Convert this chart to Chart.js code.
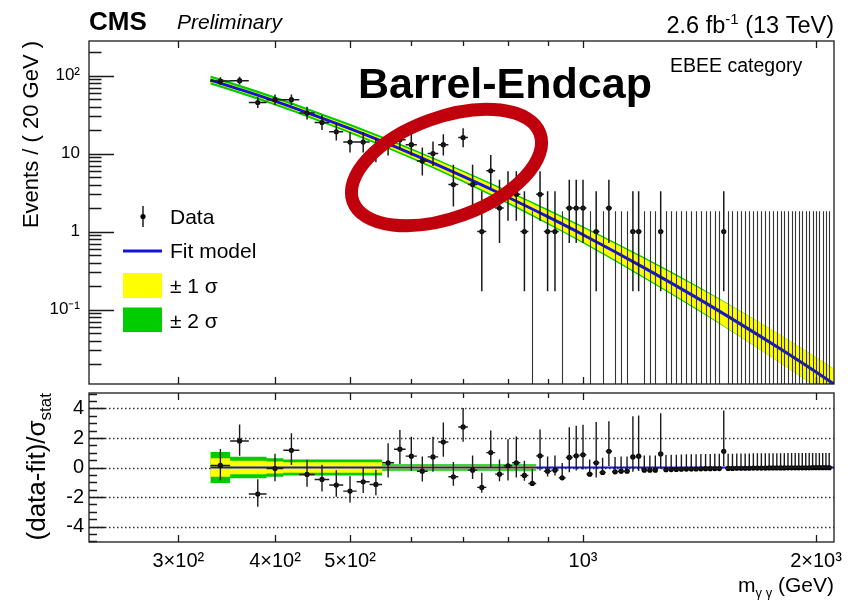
<!DOCTYPE html>
<html>
<head>
<meta charset="utf-8">
<title>EBEE category</title>
<script src="https://cdn.jsdelivr.net/npm/chart.js@4.4.1/dist/chart.umd.min.js"></script>
<style>
  html, body { margin: 0; background: #fff; }
  #wrap { position: relative; width: 857px; height: 602px; }
  #wrap canvas { position: absolute; left: 0; }
  #main { top: 0; }
  #ratio { top: 388px; }
</style>
</head>
<body>
<div id="wrap">
  <canvas id="main" width="857" height="388"></canvas>
  <canvas id="ratio" width="857" height="214"></canvas>
</div>
<script>
// diphoton mass histogram, 20 GeV bins from 330 GeV
const binLow = 330;
const binWidth = 20;

const counts = [
  85, 86, 45, 49, 49, 33, 25, 19, 14, 14,
  11, 13, 15, 13, 8, 10, 13, 4, 16, 4,
  1, 6, 2, 3, 3, 1, 0, 3, 1, 1,
  0, 2, 2, 2, 0, 1, 0, 2, 0, 0,
  0, 1, 1, 0, 0, 0, 1, 0, 0, 0,
  0, 0, 0, 0, 0, 0, 0, 0, 0, 1,
  0, 0, 0, 0, 0, 0, 0, 0, 0, 0,
  0, 0, 0, 0, 0, 0, 0, 0, 0, 0,
  0, 0, 0, 0, 0, 0, 0, 0
];

// (data-fit)/sigma_stat
const pulls = [
  0.14, 1.8, -1.8, -0.07, 1.17, -0.47, -0.81, -1.19, -1.6, -0.97,
  -1.15, 0.32, 1.24, 0.77, -0.25, 0.72, 1.73, -0.63, 2.75, -0.18,
  -1.35, 1.01, -0.45, 0.12, 0.32, -0.54, -1.08, 0.79, -0.25, -0.18,
  -0.7, 0.68, 0.79, 0.86, -0.45, 0.32, -0.34, 1.1, -0.29, -0.25,
  -0.25, 0.72, 0.77, -0.18, -0.18, -0.18, 0.92, -0.15, -0.14, -0.13,
  -0.12, -0.11, -0.1, -0.1, -0.09, -0.08, -0.08, -0.07, -0.07, 1.1,
  -0.06, -0.06, -0.05, -0.05, -0.05, -0.05, -0.04, -0.04, -0.04, -0.04,
  -0.03, -0.03, -0.03, -0.03, -0.03, -0.02, -0.02, -0.02, -0.02, -0.02,
  -0.02, -0.02, -0.01, -0.01, -0.01, -0.01, -0.01, -0.01
];

// fit uncertainty in the pull panel (sigma_stat units)
const pullBand1 = [
  0.62, 0.45, 0.45, 0.4, 0.36, 0.36, 0.36, 0.36, 0.36, 0.36,
  0.36, 0.12, 0.12, 0.12, 0.12, 0.12, 0.12, 0.12, 0.12, 0.12,
  0.12, 0.12, 0.12, 0.12, 0.12, 0.12, 0.12, 0.02, 0.02, 0.02,
  0.02, 0.02, 0.02, 0.02, 0.02, 0.02, 0.02, 0.02, 0.02, 0.02,
  0.02, 0.02, 0.02, 0.02, 0.02, 0.02, 0.02, 0.02, 0.02, 0.02,
  0.02, 0.02, 0.02, 0.02, 0.02, 0.02, 0.02, 0.02, 0.02, 0.02,
  0.02, 0.02, 0.02, 0.02, 0.02, 0.02, 0.02, 0.02, 0.02, 0.02,
  0.02, 0.02, 0.02, 0.02, 0.02, 0.02, 0.02, 0.02, 0.02, 0.02,
  0.02, 0.02, 0.02, 0.02, 0.02, 0.02, 0.02, 0.02
];
const pullBand2 = [
  1.05, 0.73, 0.73, 0.62, 0.54, 0.54, 0.54, 0.54, 0.54, 0.54,
  0.54, 0.22, 0.22, 0.22, 0.22, 0.22, 0.22, 0.22, 0.22, 0.22,
  0.22, 0.22, 0.22, 0.22, 0.22, 0.22, 0.22, 0.04, 0.04, 0.04,
  0.04, 0.04, 0.04, 0.04, 0.04, 0.04, 0.04, 0.04, 0.04, 0.04,
  0.04, 0.04, 0.04, 0.04, 0.04, 0.04, 0.04, 0.04, 0.04, 0.04,
  0.04, 0.04, 0.04, 0.04, 0.04, 0.04, 0.04, 0.04, 0.04, 0.04,
  0.04, 0.04, 0.04, 0.04, 0.04, 0.04, 0.04, 0.04, 0.04, 0.04,
  0.04, 0.04, 0.04, 0.04, 0.04, 0.04, 0.04, 0.04, 0.04, 0.04,
  0.04, 0.04, 0.04, 0.04, 0.04, 0.04, 0.04, 0.04
];

const fitMass  = [330, 360, 400, 450, 500, 600, 700, 800, 900, 1000, 1200, 1400, 1600, 1800, 2000, 2110];
const fitValue = [87.5, 66.5, 47.0, 30.8, 20.8, 10.0, 5.1, 2.75, 1.55, 0.91, 0.342, 0.143, 0.0645, 0.0311, 0.0158, 0.0111];
const band1Dec = [0.028, 0.028, 0.03, 0.032, 0.035, 0.044, 0.054, 0.064, 0.077, 0.09, 0.116, 0.14, 0.165, 0.18, 0.19, 0.195];
const band2Dec = [0.058, 0.058, 0.058, 0.06, 0.062, 0.068, 0.076, 0.086, 0.098, 0.11, 0.136, 0.155, 0.168, 0.18, 0.19, 0.195];

const yTopTicks = [0.1, 1, 10, 100];
const yTopLabels = ['10⁻¹', '1', '10', '10²'];
const xTicks = [300, 400, 500, 1000, 2000];
const xLabels = ['3×10²', '4×10²', '5×10²', '10³', '2×10³'];
const xMinorTicks = [600, 700, 800, 900];
const yPullTicks = [-4, -2, 0, 2, 4];

const xMin = 230, xMax = 2110;
const FONT = '"Liberation Sans", Arial, Helvetica, sans-serif';
const BLUE = '#1414dc';
const YELLOW = '#ffff00';
const GREEN = '#00cc00';
const INK = '#1a1a1a';

Chart.defaults.font.family = FONT;
Chart.defaults.color = '#000';

const centers = counts.map((_, i) => binLow + (i + 0.5) * binWidth);

// approximate 68% Poisson interval
function poisLo(n) {
  if (n === 0) return 0;
  return n * Math.pow(1 - 1 / (9 * n) - 1 / (3 * Math.sqrt(n)), 3);
}
function poisHi(n) {
  const m = n + 1;
  return m * Math.pow(1 - 1 / (9 * m) + 1 / (3 * Math.sqrt(m)), 3);
}

function clipArea(ctx, a) {
  ctx.beginPath();
  ctx.rect(a.left, a.top, a.right - a.left, a.bottom - a.top);
  ctx.clip();
}

// keep the plot frame where it is: no label overhang padding
function noPad(s) {
  s.paddingTop = 0;
  s.paddingBottom = 0;
  s.paddingLeft = 0;
  s.paddingRight = 0;
}

function drawFrame(chart) {
  const { ctx, chartArea: a, scales: { x } } = chart;
  ctx.save();
  ctx.strokeStyle = INK;
  ctx.lineWidth = 1.3;
  ctx.strokeRect(a.left, a.top, a.right - a.left, a.bottom - a.top);
  ctx.beginPath();
  xTicks.concat(xMinorTicks).forEach(v => {
    const px = Math.round(x.getPixelForValue(v)) + 0.5;
    const len = xTicks.includes(v) ? 7 : 5;
    ctx.moveTo(px, a.bottom); ctx.lineTo(px, a.bottom - len);
    ctx.moveTo(px, a.top); ctx.lineTo(px, a.top + len);
  });
  ctx.stroke();
  ctx.restore();
}

function text(ctx, s, x, y, font, align) {
  ctx.font = font;
  ctx.textAlign = align || 'left';
  ctx.textBaseline = 'alphabetic';
  ctx.fillStyle = '#000';
  ctx.fillText(s, x, y);
}

// draws [string, font, baseline shift] pieces one after another, ending at x
function richRight(ctx, parts, x, y) {
  let w = 0;
  parts.forEach(p => { ctx.font = p[1]; w += ctx.measureText(p[0]).width; });
  let cx = x - w;
  ctx.textAlign = 'left';
  ctx.textBaseline = 'alphabetic';
  ctx.fillStyle = '#000';
  parts.forEach(p => {
    ctx.font = p[1];
    ctx.fillText(p[0], cx, y + p[2]);
    cx += ctx.measureText(p[0]).width;
  });
}

const mainDecor = {
  id: 'mainDecor',
  afterDatasetsDraw(chart) {
    const { ctx, chartArea: a, scales: { x, y } } = chart;
    ctx.save();
    clipArea(ctx, a);
    // empty bins: upper limit only
    ctx.strokeStyle = '#333';
    ctx.lineWidth = 1.1;
    ctx.beginPath();
    counts.forEach((n, i) => {
      if (n !== 0) return;
      const px = Math.round(x.getPixelForValue(centers[i])) + 0.5;
      ctx.moveTo(px, a.bottom);
      ctx.lineTo(px, y.getPixelForValue(poisHi(0)));
    });
    ctx.stroke();
    ctx.strokeStyle = INK;
    ctx.lineWidth = 1.5;
    ctx.beginPath();
    counts.forEach((n, i) => {
      if (n === 0) return;
      const px = x.getPixelForValue(centers[i]);
      const py = y.getPixelForValue(n);
      ctx.moveTo(px, y.getPixelForValue(poisLo(n)));
      ctx.lineTo(px, y.getPixelForValue(poisHi(n)));
      ctx.moveTo(x.getPixelForValue(binLow + i * binWidth), py);
      ctx.lineTo(x.getPixelForValue(binLow + (i + 1) * binWidth), py);
    });
    ctx.stroke();
    ctx.restore();
  },
  afterDraw(chart) {
    const { ctx, chartArea: a, scales: { y } } = chart;
    drawFrame(chart);

    // log y ticks, inside the frame
    ctx.save();
    ctx.strokeStyle = INK;
    ctx.lineWidth = 1.3;
    ctx.beginPath();
    for (let d = -2; d <= 2; d++) {
      for (let k = 1; k <= 9; k++) {
        const v = k * Math.pow(10, d);
        if (v < y.min || v > y.max) continue;
        const py = Math.round(y.getPixelForValue(v)) + 0.5;
        ctx.moveTo(a.left, py);
        ctx.lineTo(a.left + (k === 1 ? 25 : 12.5), py);
      }
    }
    ctx.stroke();
    ctx.restore();

    // axis title
    ctx.save();
    ctx.translate(38, a.top);
    ctx.rotate(-Math.PI / 2);
    text(ctx, 'Events / ( 20 GeV )', 0, 0, '22px ' + FONT, 'right');
    ctx.restore();

    // header
    text(ctx, 'CMS', 89, 30, 'bold 26px ' + FONT);
    text(ctx, 'Preliminary', 177, 29, 'italic 21px ' + FONT);
    richRight(ctx, [
      ['2.6 fb', '23.5px ' + FONT, 0],
      ['-1', '15px ' + FONT, -9],
      [' (13 TeV)', '23.5px ' + FONT, 0]
    ], 834, 33);
    text(ctx, 'EBEE category', 670, 72, '19.5px ' + FONT);

    // legend
    ctx.save();
    ctx.fillStyle = '#000';
    ctx.strokeStyle = INK;
    ctx.lineWidth = 1.5;
    ctx.beginPath();
    ctx.moveTo(143, 206); ctx.lineTo(143, 227);
    ctx.stroke();
    ctx.beginPath();
    ctx.arc(143, 216.5, 2.6, 0, Math.PI * 2);
    ctx.fill();
    ctx.strokeStyle = BLUE;
    ctx.lineWidth = 3;
    ctx.beginPath();
    ctx.moveTo(123, 251); ctx.lineTo(162, 251);
    ctx.stroke();
    ctx.fillStyle = YELLOW;
    ctx.fillRect(123, 273, 39, 25);
    ctx.fillStyle = GREEN;
    ctx.fillRect(123, 307.5, 39, 24.5);
    ctx.restore();
    text(ctx, 'Data', 170, 224, '21px ' + FONT);
    text(ctx, 'Fit model', 170, 258, '21px ' + FONT);
    text(ctx, '± 1 σ', 170, 293, '21px ' + FONT);
    text(ctx, '± 2 σ', 170, 328, '21px ' + FONT);

    // annotation
    ctx.save();
    ctx.strokeStyle = '#c0000c';
    ctx.lineWidth = 13;
    ctx.beginPath();
    ctx.ellipse(446.5, 167.5, 99.5, 50.3, -20 * Math.PI / 180, 0, Math.PI * 2);
    ctx.stroke();
    ctx.restore();
    text(ctx, 'Barrel-Endcap', 358, 98, 'bold 43px ' + FONT);
  }
};

const ratioDecor = {
  id: 'ratioDecor',
  beforeDatasetsDraw(chart) {
    const { ctx, chartArea: a, scales: { y } } = chart;
    ctx.save();
    ctx.strokeStyle = '#333';
    ctx.lineWidth = 1.3;
    ctx.setLineDash([1.5, 2.5]);
    ctx.beginPath();
    yPullTicks.forEach(v => {
      const py = Math.round(y.getPixelForValue(v)) + 0.5;
      ctx.moveTo(a.left, py); ctx.lineTo(a.right, py);
    });
    ctx.stroke();
    ctx.restore();
  },
  afterDatasetsDraw(chart) {
    const { ctx, chartArea: a, scales: { x, y } } = chart;
    ctx.save();
    clipArea(ctx, a);
    ctx.strokeStyle = INK;
    ctx.lineWidth = 1.4;
    ctx.beginPath();
    counts.forEach((n, i) => {
      const r = pulls[i];
      let up = 1, down = 1;
      if (n === 0) {
        down = 0;
      } else if (r >= 0) {
        up = (poisHi(n) - n) / (n - poisLo(n));
      } else {
        down = (n - poisLo(n)) / (poisHi(n) - n);
      }
      const px = x.getPixelForValue(centers[i]);
      const py = y.getPixelForValue(r);
      ctx.moveTo(px, y.getPixelForValue(r - down));
      ctx.lineTo(px, y.getPixelForValue(r + up));
      ctx.moveTo(x.getPixelForValue(binLow + i * binWidth), py);
      ctx.lineTo(x.getPixelForValue(binLow + (i + 1) * binWidth), py);
    });
    ctx.stroke();
    ctx.restore();
  },
  afterDraw(chart) {
    const { ctx, chartArea: a, scales: { y } } = chart;
    drawFrame(chart);
    ctx.save();
    ctx.strokeStyle = INK;
    ctx.lineWidth = 1.3;
    ctx.beginPath();
    for (let v = -5; v <= 5; v += 0.5) {
      if (v < y.min || v > y.max) continue;
      const py = Math.round(y.getPixelForValue(v)) + 0.5;
      const major = yPullTicks.includes(v);
      ctx.moveTo(a.left, py);
      ctx.lineTo(a.left + (major ? 16 : 8), py);
    }
    ctx.stroke();
    ctx.restore();

    // y title with subscript
    ctx.save();
    ctx.translate(45, a.top);
    ctx.rotate(-Math.PI / 2);
    richRight(ctx, [
      ['(data-fit)/σ', '26px ' + FONT, 0],
      ['stat', '17px ' + FONT, 6]
    ], 0, 0);
    ctx.restore();

    // x title
    richRight(ctx, [
      ['m', '21px ' + FONT, 0],
      ['γ γ', '13px ' + FONT, 5],
      [' (GeV)', '21px ' + FONT, 0]
    ], 834, 204);
  }
};

const pts = (xs, ys) => xs.map((m, i) => ({ x: m, y: ys[i] }));
const fitPts = pts(fitMass, fitValue);
const bandPts = (dec, sign) => fitMass.map((m, i) => ({ x: m, y: fitValue[i] * Math.pow(10, sign * dec[i]) }));
const dataPts = counts.map((n, i) => ({ x: centers[i], y: n })).filter(p => p.y > 0);

const none = 'rgba(0,0,0,0)';
const bandSet = (data, color, fill, order) => ({
  data: data,
  fill: fill ? '+1' : false,
  backgroundColor: color,
  borderColor: none,
  borderWidth: 0,
  pointRadius: 0,
  cubicInterpolationMode: 'monotone',
  order: order
});

new Chart(document.getElementById('main'), {
  type: 'line',
  data: {
    datasets: [
      { data: fitPts, borderColor: BLUE, borderWidth: 3, pointRadius: 0, fill: false,
        cubicInterpolationMode: 'monotone', order: 1 },
      bandSet(bandPts(band1Dec, 1), YELLOW, true, 2),
      bandSet(bandPts(band1Dec, -1), YELLOW, false, 3),
      bandSet(bandPts(band2Dec, 1), GREEN, true, 4),
      bandSet(bandPts(band2Dec, -1), GREEN, false, 5),
      { type: 'scatter', data: dataPts, pointRadius: 2.6, pointBackgroundColor: '#000',
        pointBorderWidth: 0, order: 0 }
    ]
  },
  options: {
    responsive: false,
    animation: false,
    events: [],
    layout: { padding: { top: 41, right: 23, bottom: 4, left: 0 } },
    plugins: { legend: { display: false }, tooltip: { enabled: false } },
    scales: {
      x: { type: 'logarithmic', min: xMin, max: xMax, display: false },
      y: {
        type: 'logarithmic',
        min: 0.0111,
        max: 277,
        grid: { display: false, drawTicks: false },
        border: { display: false },
        afterBuildTicks: s => { s.ticks = yTopTicks.map(v => ({ value: v })); },
        afterFit: s => { s.width = 89; noPad(s); },
        ticks: {
          autoSkip: false,
          padding: 9,
          font: { size: 17 },
          callback: v => yTopLabels[yTopTicks.indexOf(v)]
        }
      }
    }
  },
  plugins: [mainDecor]
});

const stepPts = (vals, sign) => vals.flatMap((v, i) => [
  { x: binLow + i * binWidth, y: sign * v },
  { x: binLow + (i + 1) * binWidth, y: sign * v }
]);
const pullPts = pulls.map((r, i) => ({ x: centers[i], y: r }));

new Chart(document.getElementById('ratio'), {
  type: 'line',
  data: {
    datasets: [
      { data: [{ x: binLow, y: 0 }, { x: xMax, y: 0 }], borderColor: BLUE, borderWidth: 2,
        pointRadius: 0, fill: false, order: 1 },
      { data: stepPts(pullBand1, 1), fill: '+1', backgroundColor: YELLOW, borderColor: none,
        borderWidth: 0, pointRadius: 0, order: 2 },
      { data: stepPts(pullBand1, -1), fill: false, borderColor: none, borderWidth: 0,
        pointRadius: 0, order: 3 },
      { data: stepPts(pullBand2, 1), fill: '+1', backgroundColor: GREEN, borderColor: none,
        borderWidth: 0, pointRadius: 0, order: 4 },
      { data: stepPts(pullBand2, -1), fill: false, borderColor: none, borderWidth: 0,
        pointRadius: 0, order: 5 },
      { type: 'scatter', data: pullPts, pointRadius: 2.6, pointBackgroundColor: '#000',
        pointBorderWidth: 0, order: 0 }
    ]
  },
  options: {
    responsive: false,
    animation: false,
    events: [],
    layout: { padding: { top: 5, right: 23, bottom: 0, left: 0 } },
    plugins: { legend: { display: false }, tooltip: { enabled: false } },
    scales: {
      x: {
        type: 'logarithmic',
        min: xMin,
        max: xMax,
        grid: { display: false, drawTicks: false },
        border: { display: false },
        afterBuildTicks: s => { s.ticks = xTicks.map(v => ({ value: v })); },
        afterFit: s => { s.height = 60; noPad(s); },
        ticks: {
          autoSkip: false,
          maxRotation: 0,
          padding: 7,
          font: { size: 20 },
          callback: v => xLabels[xTicks.indexOf(v)]
        }
      },
      y: {
        min: -5.05,
        max: 5.05,
        grid: { display: false, drawTicks: false },
        border: { display: false },
        afterBuildTicks: s => { s.ticks = yPullTicks.map(v => ({ value: v })); },
        afterFit: s => { s.width = 89; noPad(s); },
        ticks: {
          autoSkip: false,
          padding: 5,
          font: { size: 20 },
          callback: v => String(v)
        }
      }
    }
  },
  plugins: [ratioDecor]
});
</script>
</body>
</html>
